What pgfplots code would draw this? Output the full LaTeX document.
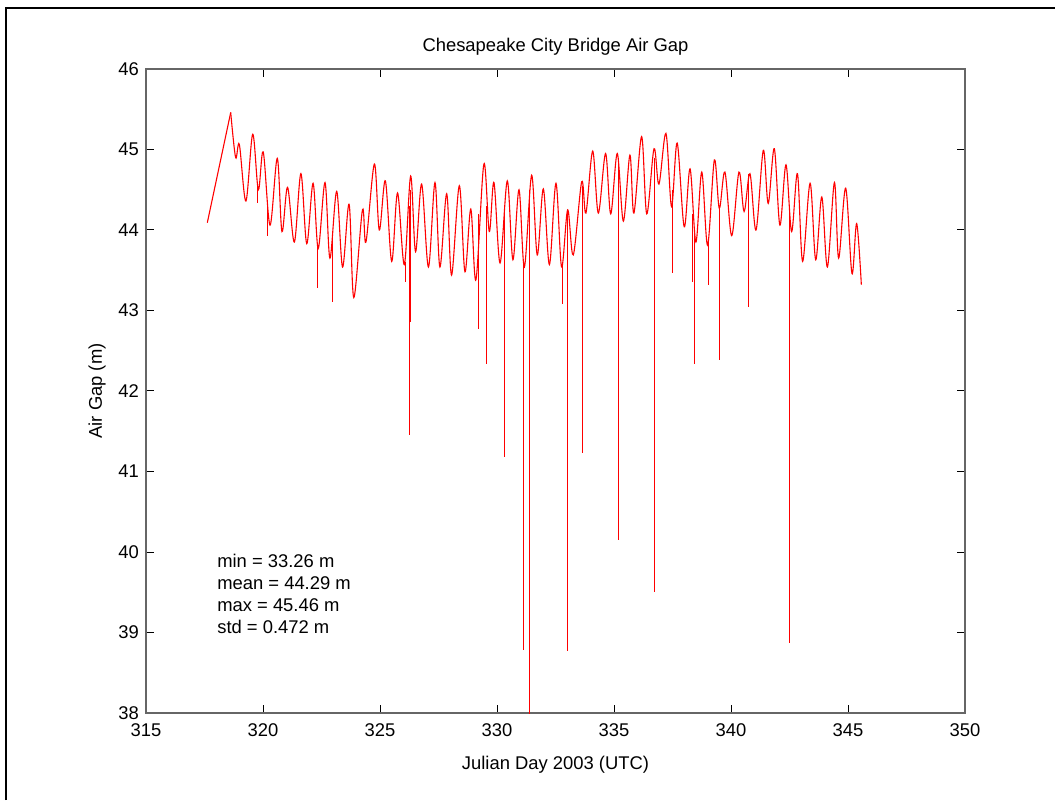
\documentclass[border=0pt]{standalone}
\usepackage{fontspec}
\setmainfont{Liberation Sans}
\usepackage{pgfplots}
\pgfplotsset{compat=1.18}

\newcommand{\chartfont}{\fontsize{9.2}{11}\selectfont}

\begin{document}
\begin{tikzpicture}
% page area and figure frame
\path[use as bounding box] (0pt,0pt) rectangle (527.5pt,400pt);
\draw[line width=1.25pt] (2.9pt,0pt) -- (2.9pt,396pt) -- (527.5pt,396pt);

\begin{axis}[
  at={(73pt,43.5pt)}, anchor=south west,
  scale only axis, width=409.5pt, height=322pt,
  xmin=315, xmax=350, ymin=38, ymax=46,
  xtick={315,320,...,350}, ytick={38,39,...,46},
  tick align=inside, major tick length=4pt,
  axis line style={black!60, line width=0.6pt},
  tick style={black, line width=0.5pt},
  /pgf/number format/assume math mode=true,
  every tick label/.append style={font=\chartfont},
  xticklabel style={yshift=-1.8pt},
  label style={font=\chartfont},
  every axis title shift=0pt,
  title style={font=\chartfont, at={(axis description cs:0.5,1.034)}, anchor=center},
  xlabel style={at={(axis description cs:0.5,-0.0807)}, anchor=center},
  ylabel style={at={(axis description cs:-0.0598,0.5)}, anchor=center},
  title={Chesapeake City Bridge Air Gap},
  xlabel={Julian Day 2003 (UTC)},
  ylabel={Air Gap (m)},
]

% leading gap in the record
\addplot[red, line width=0.55pt] coordinates {(317.62,44.09) (318.62,45.46)};

% tidal air gap (highs and lows)
\addplot[red, line width=0.55pt, smooth, tension=0.55] table {
x y
318.62 45.46
318.83 44.90
318.99 45.06
319.27 44.36
319.56 45.19
319.80 44.50
320.01 44.97
320.30 44.06
320.61 44.89
320.81 43.98
321.05 44.53
321.34 43.85
321.62 44.70
321.87 43.83
322.14 44.58
322.36 43.77
322.65 44.59
322.86 43.65
323.15 44.48
323.40 43.54
323.68 44.32
323.88 43.16
324.25 44.25
324.40 43.85
324.76 44.82
324.97 44.00
325.23 44.61
325.50 43.61
325.75 44.46
326.04 43.57
326.31 44.67
326.52 43.73
326.78 44.57
327.07 43.54
327.35 44.59
327.56 43.54
327.85 44.45
328.06 43.44
328.39 44.55
328.63 43.48
328.88 44.26
329.10 43.38
329.44 44.82
329.67 43.98
329.87 44.59
330.13 43.59
330.44 44.61
330.68 43.63
330.94 44.50
331.17 43.54
331.48 44.68
331.72 43.69
331.98 44.51
332.24 43.57
332.52 44.58
332.76 43.54
333.02 44.25
333.26 43.69
333.62 44.60
333.80 44.21
334.09 44.98
334.33 44.21
334.64 44.95
334.86 44.20
335.14 44.95
335.40 44.11
335.68 44.93
335.85 44.21
336.18 45.16
336.40 44.20
336.71 45.01
336.92 44.57
337.22 45.20
337.46 44.29
337.70 45.08
338.00 44.04
338.25 44.76
338.50 43.85
338.75 44.72
339.00 43.81
339.29 44.87
339.50 44.27
339.74 44.72
340.03 43.93
340.34 44.72
340.56 44.23
340.81 44.70
341.07 44.00
341.38 44.99
341.59 44.33
341.85 45.01
342.09 44.06
342.35 44.81
342.59 43.98
342.84 44.70
343.06 43.61
343.38 44.58
343.62 43.63
343.88 44.41
344.12 43.54
344.42 44.59
344.60 43.65
344.90 44.52
345.17 43.46
345.37 44.08
345.57 43.32
};

% single-sample dropouts
\addplot[red, line width=0.5pt, unbounded coords=jump] table {
x y
319.77 44.55
319.77 44.33
319.77 nan
320.19 44.30
320.19 43.92
320.19 nan
322.33 43.80
322.33 43.28
322.33 nan
322.98 43.90
322.98 43.11
322.98 nan
326.07 43.60
326.07 43.36
326.07 nan
326.26 44.30
326.26 41.45
326.26 nan
326.30 44.50
326.30 42.86
326.30 nan
329.23 44.20
329.23 42.77
329.23 nan
329.56 44.30
329.56 42.33
329.56 nan
330.31 44.20
330.31 41.18
330.31 nan
331.14 43.60
331.14 38.78
331.14 nan
331.40 44.50
331.40 33.26
331.40 nan
332.79 43.60
332.79 43.08
332.79 nan
333.02 44.25
333.02 38.77
333.02 nan
333.65 44.55
333.65 41.23
333.65 nan
335.18 44.90
335.18 42.55
335.18 nan
335.20 44.90
335.20 40.15
335.20 nan
336.75 44.90
336.75 39.50
336.75 nan
337.49 44.50
337.49 43.46
337.49 nan
338.36 44.20
338.36 43.36
338.36 nan
338.43 44.00
338.43 42.34
338.43 nan
339.03 43.85
339.03 43.32
339.03 nan
339.50 44.27
339.50 42.39
339.50 nan
340.74 44.70
340.74 43.04
340.74 nan
342.49 44.30
342.49 38.87
};

\node[anchor=north west, align=left, inner sep=0pt, font=\chartfont]
  at (axis cs:318.03,39.975)
  {min = 33.26 m\\mean = 44.29 m\\max = 45.46 m\\std = 0.472 m};
\end{axis}
\end{tikzpicture}
\end{document}
